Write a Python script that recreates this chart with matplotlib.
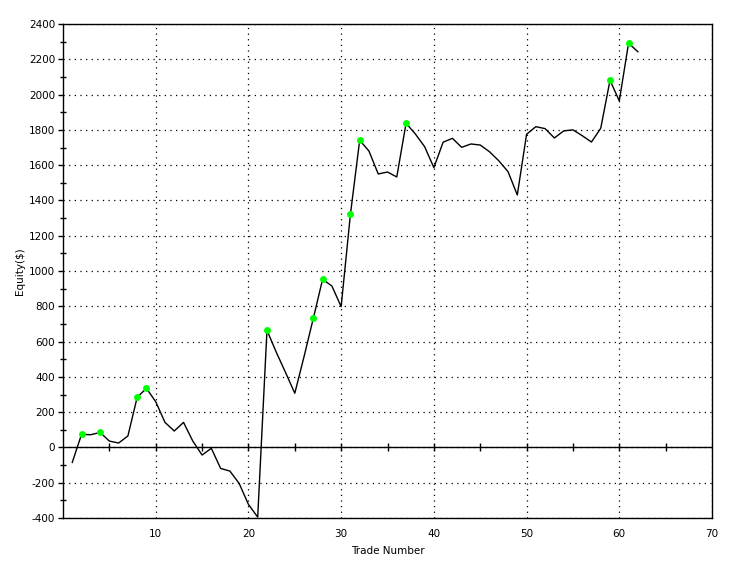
import numpy as np
import matplotlib.pyplot as plt

# equity curve per trade
trades = np.arange(1, 63)
equity = [-85, 74, 72, 85, 36, 25, 65, 284, 335, 259,
          142, 93, 142, 36, -43, -5, -119, -134, -204, -323,
          -395, 664, 540, 425, 307, 515, 732, 953, 915, 798,
          1321, 1741, 1680, 1550, 1561, 1533, 1837, 1777, 1705, 1586,
          1730, 1752, 1701, 1720, 1714, 1676, 1625, 1563, 1431, 1775,
          1818, 1807, 1754, 1794, 1800, 1767, 1731, 1809, 2081, 1964,
          2291, 2243]
# trades that set a new equity high
high_trades = [2, 4, 8, 9, 22, 27, 28, 31, 32, 37, 59, 61]

x_ticks = [10, 20, 30, 40, 50, 60, 70]
y_ticks = list(range(-400, 2401, 200))

plt.rcParams['font.family'] = ['DejaVu Sans']
plt.rcParams['font.size'] = 7.5
plt.rcParams['axes.unicode_minus'] = False

fig = plt.figure(figsize=(7.47, 5.68), dpi=100)
ax = fig.add_axes([63 / 747, 50 / 568, 649 / 747, 494 / 568])

ax.set_xlim(0, 70)
ax.set_ylim(-400, 2400)

# grid
ax.set_xticks(x_ticks)
ax.set_yticks(y_ticks)
ax.set_yticks(range(-300, 2400, 200), minor=True)
ax.grid(True, color='black', linestyle=(0, (1, 3.5)), linewidth=0.9)
ax.tick_params(axis='x', length=0, pad=8)
ax.tick_params(axis='y', which='major', length=3.5, width=1, direction='out', pad=2)
ax.tick_params(axis='y', which='minor', length=4, width=1, direction='inout')
for s in ax.spines.values():
    s.set_linewidth(1)

# zero axis with ticks every 5 trades
ax.axhline(0, color='black', linewidth=1)
zero_ax = ax.secondary_xaxis(400 / 2800)
zero_ax.set_xticks(range(5, 70, 5))
zero_ax.tick_params(length=6, width=1, direction='inout', labelbottom=False, labeltop=False)
zero_ax.spines['bottom'].set_visible(False)
zero_ax.spines['top'].set_visible(False)

ax.plot(trades, equity, color='black', linewidth=1)
hi_y = [equity[t - 1] for t in high_trades]
ax.plot(high_trades, hi_y, 'o', color='#00ff00', markersize=5, markeredgewidth=0)

ax.set_xlabel('Trade Number')
ax.set_ylabel('Equity($)')
ax.xaxis.set_label_coords(0.5, -33 / 494, transform=ax.transAxes)
ax.yaxis.set_label_coords(-43 / 649, 0.5, transform=ax.transAxes)
ax.xaxis.label.set_va('center')
ax.yaxis.label.set_va('center')

fig.savefig('out.png', dpi=100)
